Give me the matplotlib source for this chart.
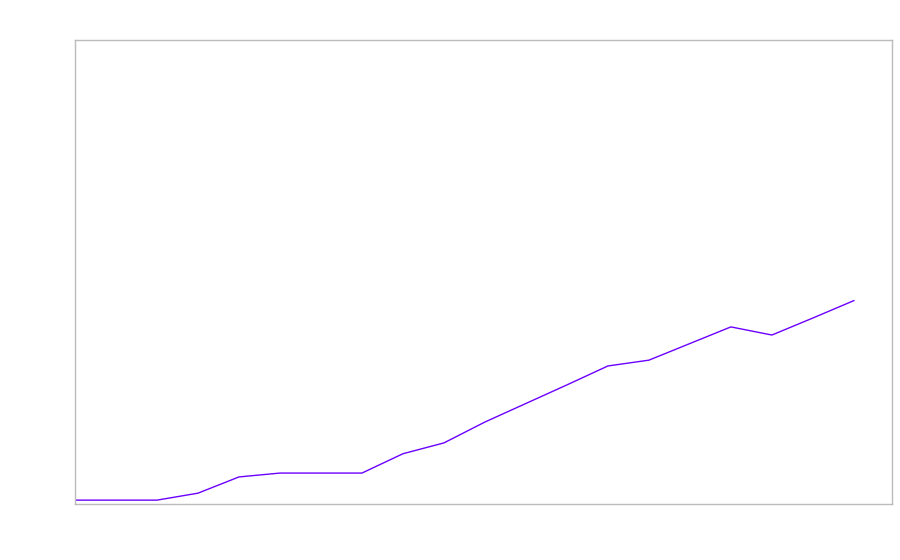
import numpy as np
import matplotlib
matplotlib.use("Agg")
import matplotlib.pyplot as plt

# values (no tick labels in the original)
steps = np.arange(20)
values = [1, 1, 1, 2.8, 7, 8, 8, 8, 13, 15.8, 21.2, 26, 30.8, 35.7, 37.2,
          41.5, 45.8, 43.7, 48.1, 52.6]

fig = plt.figure(figsize=(9, 5.6), dpi=100)
ax = fig.add_axes([75 / 900, 56 / 560, 817 / 900, 464 / 560])

ax.plot(steps, values, color="#6a00ff", linewidth=1.0)

ax.set_xlim(0, 19.93)
ax.set_ylim(0, 120)
ax.set_xticks([])
ax.set_yticks([])
for side in ax.spines.values():
    side.set_color("#bbbbbb")
    side.set_linewidth(1.0)

fig.savefig("out.png", dpi=100)
